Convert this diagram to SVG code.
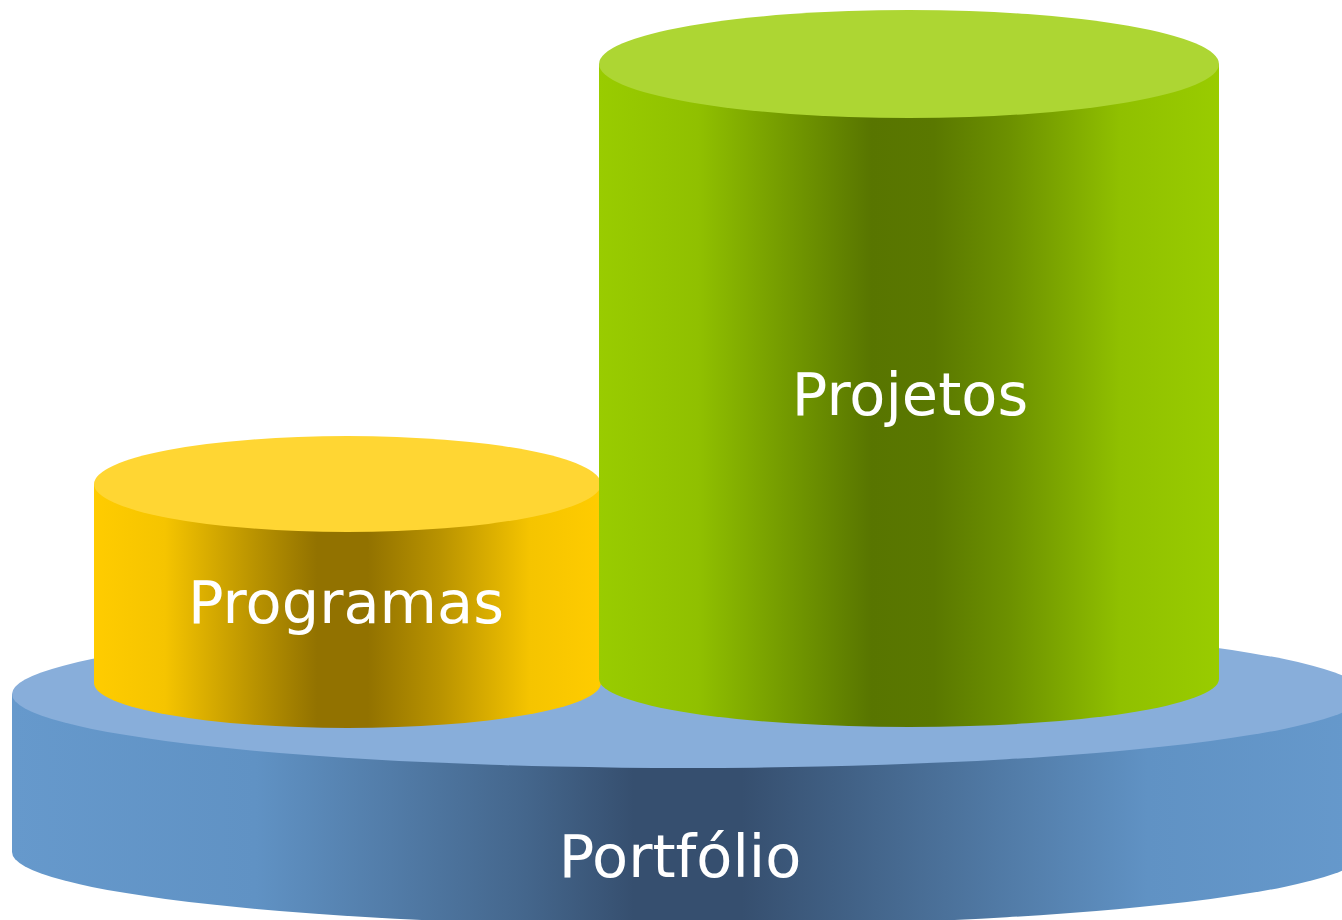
<svg xmlns="http://www.w3.org/2000/svg" width="1342" height="920" viewBox="0 0 1342 920">
<defs>
<linearGradient id="gBlue" x1="0" y1="0" x2="1" y2="0">
<stop offset="0" stop-color="#6699CC"/>
<stop offset="0.18" stop-color="#6092C4"/>
<stop offset="0.38" stop-color="#44668C"/>
<stop offset="0.46" stop-color="#364F6F"/>
<stop offset="0.54" stop-color="#364F6F"/>
<stop offset="0.64" stop-color="#44668C"/>
<stop offset="0.84" stop-color="#6092C4"/>
<stop offset="1" stop-color="#6699CC"/>
</linearGradient>
<linearGradient id="gYellow" x1="0" y1="0" x2="1" y2="0">
<stop offset="0" stop-color="#FFCC00"/>
<stop offset="0.14" stop-color="#F5C400"/>
<stop offset="0.32" stop-color="#B89200"/>
<stop offset="0.44" stop-color="#927200"/>
<stop offset="0.54" stop-color="#927200"/>
<stop offset="0.68" stop-color="#B89200"/>
<stop offset="0.86" stop-color="#F5C400"/>
<stop offset="1" stop-color="#FFCC00"/>
</linearGradient>
<linearGradient id="gGreen" x1="0" y1="0" x2="1" y2="0">
<stop offset="0" stop-color="#99CC00"/>
<stop offset="0.16" stop-color="#90C000"/>
<stop offset="0.34" stop-color="#6C9000"/>
<stop offset="0.44" stop-color="#587500"/>
<stop offset="0.54" stop-color="#5A7800"/>
<stop offset="0.66" stop-color="#6C9000"/>
<stop offset="0.84" stop-color="#90C000"/>
<stop offset="1" stop-color="#99CC00"/>
</linearGradient>
</defs>
<style>
.lbl{font-family:"DejaVu Sans","Liberation Sans",sans-serif;font-size:59px;fill:#FFFFFF;text-anchor:middle}
</style>
<rect width="1342" height="920" fill="#FFFFFF"/>
<g id="portfolio">
<path d="M12,694 L12,852 A676,74 0 0 0 1364,852 L1364,694 Z" fill="url(#gBlue)"/>
<ellipse cx="688" cy="694" rx="676" ry="74" fill="#88AEDA"/>
<text class="lbl" x="680" y="877">Portfólio</text>
</g>
<g id="programas">
<path d="M94,484 L94,683 A253.5,45 0 0 0 601,683 L601,484 Z" fill="url(#gYellow)"/>
<ellipse cx="347.5" cy="484" rx="253.5" ry="48" fill="#FFD633"/>
<text class="lbl" x="346" y="623">Programas</text>
</g>
<g id="projetos">
<path d="M599,64 L599,679 A310,48 0 0 0 1219,679 L1219,64 Z" fill="url(#gGreen)"/>
<ellipse cx="909" cy="64" rx="310" ry="54" fill="#ADD633"/>
<text class="lbl" x="910" y="415">Projetos</text>
</g>
</svg>
